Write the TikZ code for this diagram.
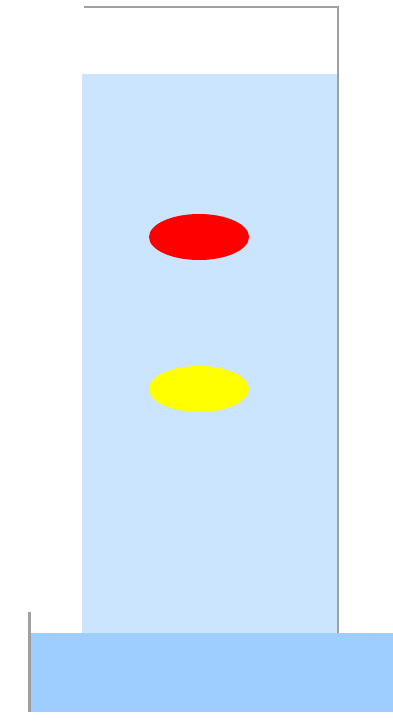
\documentclass[tikz,border=0pt]{standalone}
\definecolor{lightwater}{RGB}{204,229,255}
\definecolor{basewater}{RGB}{158,206,255}
\definecolor{wallgray}{RGB}{160,160,160}
\definecolor{spotred}{RGB}{255,0,0}
\definecolor{spotyellow}{RGB}{255,255,0}
\tikzset{wall/.style={draw=wallgray,line width=2.2pt}}
\begin{document}
\begin{tikzpicture}[x=1pt,y=-1pt]
\useasboundingbox (0,0) rectangle (393,725);
\fill[lightwater] (82,74) rectangle (337,633);
\fill[basewater] (30,633) rectangle (393,712);
\draw[wall] (84,7) -- (338,7) -- (338,633);
\draw[wall] (29.5,612) -- (29.5,712);
\fill[spotred] (199,237) ellipse [x radius=50, y radius=23];
\fill[spotyellow] (199,389) ellipse [x radius=50, y radius=23];
\end{tikzpicture}
\end{document}
